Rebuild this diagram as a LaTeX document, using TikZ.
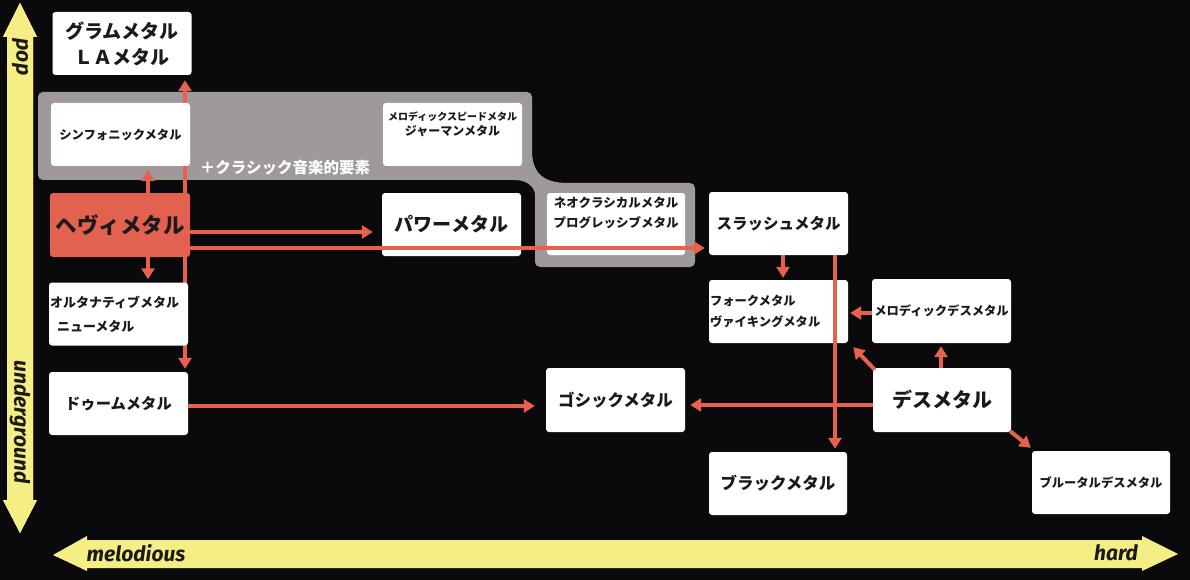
\documentclass[tikz,border=0pt]{standalone}
\usepackage{fontspec}
\newfontfamily\jp{Noto Sans CJK JP}
\newfontfamily\lat{Fira Sans}
\usetikzlibrary{arrows.meta,backgrounds}
\definecolor{bgc}{HTML}{0A0A0C}
\definecolor{yel}{HTML}{F5EE84}
\definecolor{grayb}{HTML}{A09999}
\definecolor{redl}{HTML}{E8604E}
\definecolor{heavyc}{HTML}{E3624F}
\definecolor{ink}{HTML}{1A1A1A}
\begin{document}
\begin{tikzpicture}[x=1pt,y=-1pt,
  box/.style={fill=white, rounded corners=3pt, inner sep=0pt, align=center, text=ink},
  bw/.style={minimum width=139pt, minimum height=63pt},
  jpL/.style={font=\jp\bfseries\fontsize{19}{26}\selectfont},
  jpM/.style={font=\jp\bfseries\fontsize{15.5}{20}\selectfont},
  jpS/.style={font=\jp\bfseries\fontsize{12.3}{21}\selectfont},
  redarrow/.style={draw=redl, line width=4pt, -{Triangle[width=13pt,length=11pt]}},
  axlab/.style={font=\lat\bfseries\itshape\fontsize{21}{24}\selectfont, text=ink, inner sep=0pt}
]
\useasboundingbox (0,0) rectangle (1190,580);

% axes
\fill[yel] (20,3) -- (37,37) -- (33,37) -- (33,500) -- (37,500) -- (20,533) -- (3,500) -- (7,500) -- (7,37) -- (3,37) -- cycle;
\fill[yel] (53,555) -- (87,536) -- (87,540) -- (1142,540) -- (1142,536) -- (1178,554) -- (1142,571) -- (1142,568) -- (87,568) -- (87,571) -- cycle;
\node[axlab, rotate=-90] (pop) at (20,57) {pop};
\node[axlab, rotate=-90] (under) at (20,422) {underground};
\node[axlab] (melo) at (136,553) {melodious};
\node[axlab] (hard) at (1116,553) {hard};

\node[box, bw, jpL] (glam) at (122,43.5) {グラムメタル\\ＬＡメタル};
\node[box, bw, font=\jp\bfseries\fontsize{12.3}{16}\selectfont] (sym) at (120.5,134.5) {シンフォニックメタル};
\node[box, bw, font=\jp\bfseries\fontsize{12}{15}\selectfont] (mspeed) at (452.5,134.5) {{\fontsize{10}{15}\selectfont メロディックスピードメタル}\\ジャーマンメタル\hspace*{14pt}\\[6pt]};
\node[box, bw, minimum width=140pt, minimum height=64pt, fill=heavyc, font=\jp\bfseries\fontsize{21.5}{26}\selectfont] (heavy) at (120,225) {ヘヴィメタル};
\node[box, bw, jpL] (power) at (451.5,224.5) {パワーメタル};
\node[box, bw, minimum width=138pt, minimum height=62pt, font=\jp\bfseries\fontsize{12.5}{20}\selectfont] (neo) at (616,224) {ネオクラシカルメタル\\プログレッシブメタル\\[4pt]};
\node[box, bw, jpM] (thrash) at (778.5,223.5) {スラッシュメタル};
\node[box, bw, jpS, text width=137pt, align=left, inner xsep=1pt] (folk) at (778.5,311.5) {フォークメタル\\ヴァイキングメタル\\[2pt]};
\node[box, bw, minimum height=64pt, font=\jp\bfseries\fontsize{12.3}{16}\selectfont] (mdeath) at (941.5,311) {メロディックデスメタル};
\node[box, bw, font=\jp\bfseries\fontsize{13}{24}\selectfont, text width=137pt, align=left, inner xsep=1pt] (alt) at (118.5,314) {オルタナティブメタル\\\hspace*{7pt}ニューメタル};
\node[box, bw, font=\jp\bfseries\fontsize{15.3}{20}\selectfont] (doom) at (118.5,403.5) {ドゥームメタル};
\node[box, bw, minimum height=64pt, font=\jp\bfseries\fontsize{16.5}{20}\selectfont] (gothic) at (615.5,400) {ゴシックメタル};
\node[box, bw, minimum width=138pt, minimum height=64pt, font=\jp\bfseries\fontsize{20}{24}\selectfont] (death) at (942,400) {デスメタル};
\node[box, bw, minimum width=138pt, font=\jp\bfseries\fontsize{16.5}{20}\selectfont] (black) at (778,483.5) {ブラックメタル};
\node[box, bw, minimum width=138pt, font=\jp\bfseries\fontsize{12.3}{16}\selectfont] (brutal) at (1101,482.5) {ブルータルデスメタル};

\node[font=\jp\bfseries\fontsize{15.5}{18}\selectfont, text=white, inner sep=0pt] (classic) at (285,168) {＋クラシック音楽的要素};

\begin{pgfonlayer}{background}
\fill[bgc] (0,0) rectangle (1190,580);
\fill[yel] (20,3) -- (37,37) -- (33,37) -- (33,500) -- (37,500) -- (20,533) -- (3,500) -- (7,500) -- (7,37) -- (3,37) -- cycle;
\fill[grayb] (38,92) [rounded corners=5pt] -- (532,92) -- (532,145) [sharp corners] .. controls (532,172) and (542,183) .. (568,183) [rounded corners=5pt] -- (695,183) -- (695,267) -- (535,267) -- (535,200) [sharp corners] .. controls (535,188) and (528,180) .. (515,180) [rounded corners=5pt] -- (38,180) -- (38,92) -- (100,92);
\coordinate (hx) at (185,225);
\draw[redarrow] (hx) -- ([yshift=-5pt]glam.south -| hx);
\draw[redarrow] (hx) -- ([yshift=3pt]doom.north -| hx);
\end{pgfonlayer}

% arrows from heavy metal
\draw[redarrow] (heavy.north -| 148,0) -- ([yshift=-4pt]sym.south -| 148,0);
\draw[redarrow] (heavy.south -| 148,0) -- ([yshift=3pt]alt.north -| 148,0);
\draw[redarrow] (heavy.east |- 0,232) -- ([xshift=-9pt]power.west |- 0,232);
\draw[redarrow] (heavy.east |- 0,248) -- ([xshift=-4pt]thrash.west |- 0,248);

% thrash
\draw[redarrow] (thrash.south -| 783,0) -- ([yshift=2pt]folk.north -| 783,0);
\draw[redarrow] (thrash.south -| 835,0) -- ([yshift=3pt]black.north -| 835,0);

% death
\draw[redarrow] (mdeath.west |- 0,313) -- ([xshift=2pt]folk.east |- 0,313);
\draw[redarrow] (death.north -| 941,0) -- ([yshift=-3pt]mdeath.south -| 941,0);
\draw[redarrow] ([shift={(2pt,-2pt)}]death.north west) -- ([shift={(5pt,-4pt)}]folk.south east);
\draw[redarrow] (death.west |- 0,405) -- ([xshift=5pt]gothic.east |- 0,405);
\draw[redarrow] ([shift={(-1pt,1pt)}]death.south east) -- ([shift={(-1pt,3pt)}]brutal.north west);

% doom
\draw[redarrow] (doom.east |- 0,406) -- ([xshift=-11pt]gothic.west |- 0,406);
\end{tikzpicture}
\end{document}
